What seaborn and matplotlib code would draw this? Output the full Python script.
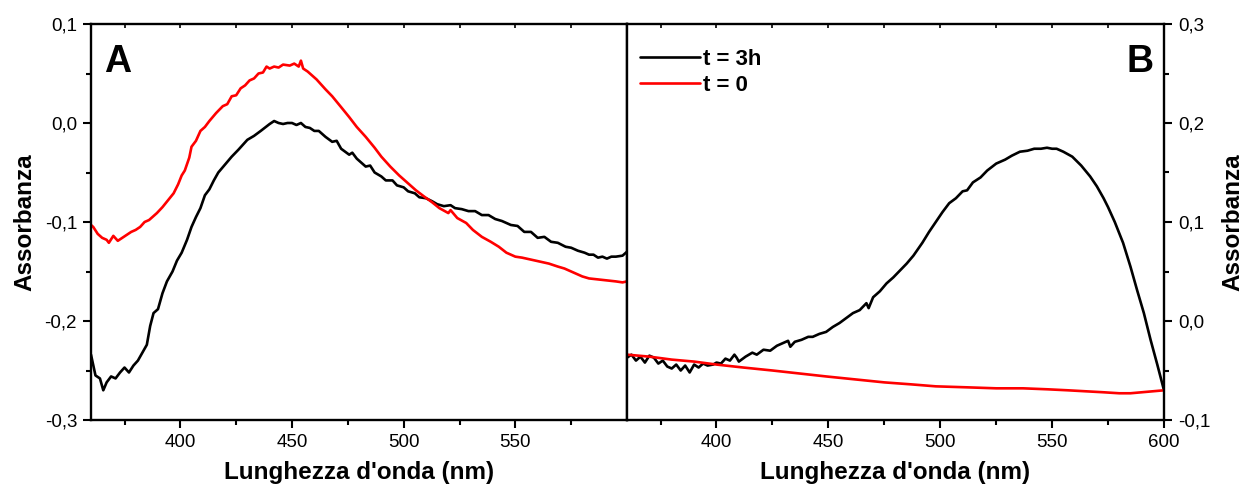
import numpy as np
import pandas as pd
import matplotlib
matplotlib.use("Agg")
import matplotlib.pyplot as plt
from matplotlib.ticker import FuncFormatter, MultipleLocator, FixedLocator
import seaborn as sns

# ---- Panel A spectra (wavelength nm, absorbance) ----
a_t3h_nm = [360, 362, 364, 365.5, 367, 369, 371, 373, 375, 377, 379, 381, 383, 385, 386.5,
            388, 390, 392, 394, 396.5, 398.5, 400.6, 403, 405, 407, 409, 411, 413, 415, 417,
            420, 423, 426, 430, 433, 436, 440, 442, 444, 446, 448, 450, 452, 454, 456, 458,
            460, 462, 465, 468, 470, 472, 475.6, 477, 479, 483, 485, 487, 490, 492, 495, 497,
            500, 502, 505, 507, 510, 512.7, 515, 518, 521, 523, 526, 529, 532, 535, 538, 541,
            544, 548, 551, 554, 557, 560, 563, 566, 569, 572.5, 575, 578, 581, 583, 585, 587,
            589, 591, 593, 595, 598, 600]
a_t3h_abs = [-0.234, -0.255, -0.258, -0.270, -0.262, -0.256, -0.258, -0.252, -0.247, -0.252,
             -0.245, -0.240, -0.232, -0.224, -0.205, -0.192, -0.188, -0.172, -0.160, -0.150,
             -0.139, -0.131, -0.118, -0.105, -0.095, -0.086, -0.073, -0.067, -0.058, -0.050,
             -0.042, -0.034, -0.027, -0.017, -0.013, -0.008, -0.001, 0.002, 0.000, -0.001,
             0.000, 0.000, -0.002, 0.000, -0.004, -0.005, -0.008, -0.008, -0.014, -0.019,
             -0.018, -0.026, -0.032, -0.030, -0.036, -0.044, -0.043, -0.050, -0.054, -0.058,
             -0.058, -0.063, -0.065, -0.069, -0.071, -0.075, -0.076, -0.079, -0.082, -0.084,
             -0.083, -0.086, -0.087, -0.089, -0.089, -0.093, -0.093, -0.097, -0.099, -0.103,
             -0.104, -0.110, -0.110, -0.116, -0.115, -0.120, -0.121, -0.125, -0.126, -0.129,
             -0.131, -0.133, -0.133, -0.136, -0.135, -0.137, -0.135, -0.135, -0.134, -0.130]

a_t0_nm = [360, 361, 363, 365, 367, 368, 370, 372, 374, 376, 378, 380, 382, 384, 386, 388,
           389.5, 392, 394.5, 397, 399, 400.6, 402, 404, 405, 407, 409, 411, 413, 416, 419,
           421, 423, 425, 427, 429, 431, 433, 435, 437, 438.6, 440, 442, 444, 446, 449, 451,
           453, 454, 455, 457, 461, 465, 468, 472, 475.6, 479, 483, 487, 490, 494, 498, 502,
           505.5, 509, 512.7, 516, 520, 521, 524, 528, 531, 535, 539, 542.6, 546, 550, 553,
           557, 561, 565, 569, 572, 576, 580, 583, 587, 591, 595, 598, 600]
a_t0_abs = [-0.103, -0.105, -0.112, -0.116, -0.118, -0.121, -0.114, -0.119, -0.116, -0.113,
            -0.110, -0.108, -0.105, -0.100, -0.098, -0.094, -0.091, -0.085, -0.078, -0.071,
            -0.062, -0.053, -0.048, -0.035, -0.024, -0.018, -0.008, -0.004, 0.002, 0.010,
            0.017, 0.019, 0.027, 0.028, 0.035, 0.038, 0.043, 0.045, 0.050, 0.051, 0.057,
            0.055, 0.057, 0.056, 0.059, 0.058, 0.060, 0.057, 0.063, 0.055, 0.052, 0.044,
            0.034, 0.027, 0.016, 0.006, -0.004, -0.014, -0.025, -0.034, -0.044, -0.053,
            -0.061, -0.068, -0.074, -0.080, -0.086, -0.091, -0.088, -0.096, -0.101, -0.108,
            -0.115, -0.120, -0.125, -0.131, -0.135, -0.136, -0.138, -0.140, -0.142, -0.145,
            -0.147, -0.151, -0.155, -0.157, -0.158, -0.159, -0.160, -0.161, -0.160]

# ---- Panel B spectra ----
b_t3h_nm = [360, 362, 364, 366, 368, 370, 372, 374, 376, 378, 380, 382, 384, 386, 388, 390,
            392, 394, 396, 398.5, 400, 402, 404, 406, 408, 409, 410, 413, 416, 418, 421, 424,
            427, 430, 432, 433, 435, 438, 441, 443, 446, 449, 452, 455, 458, 461, 464, 467,
            468, 470, 473, 476, 479, 482, 485, 488, 492, 495, 498, 501, 504, 507, 510, 512,
            514.6, 518, 521, 525, 529, 532, 535.6, 539, 542, 545, 547.7, 550, 552, 555, 559,
            563, 567, 570, 573, 575, 578, 581.7, 585, 588, 591, 594, 597, 600]
b_t3h_abs = [-0.037, -0.034, -0.040, -0.036, -0.042, -0.035, -0.037, -0.043, -0.040, -0.046,
             -0.048, -0.044, -0.050, -0.045, -0.052, -0.044, -0.047, -0.043, -0.045, -0.044,
             -0.042, -0.043, -0.038, -0.040, -0.034, -0.037, -0.041, -0.036, -0.032, -0.034,
             -0.029, -0.030, -0.025, -0.022, -0.020, -0.026, -0.021, -0.019, -0.016, -0.016,
             -0.013, -0.011, -0.006, -0.002, 0.003, 0.008, 0.011, 0.018, 0.013, 0.024, 0.030,
             0.038, 0.044, 0.051, 0.058, 0.066, 0.079, 0.090, 0.100, 0.110, 0.119, 0.124,
             0.131, 0.132, 0.140, 0.145, 0.152, 0.159, 0.163, 0.167, 0.171, 0.172, 0.174,
             0.174, 0.175, 0.174, 0.174, 0.171, 0.166, 0.157, 0.146, 0.136, 0.124, 0.115,
             0.100, 0.079, 0.055, 0.031, 0.008, -0.019, -0.044, -0.070]

b_t0_nm = [360, 370, 380, 390, 400, 412, 425, 437, 449, 462, 475, 487, 498, 512, 525, 537,
           548, 557, 565, 573, 580, 585, 590, 595, 600]
b_t0_abs = [-0.034, -0.036, -0.039, -0.041, -0.044, -0.047, -0.050, -0.053, -0.056, -0.059,
            -0.062, -0.064, -0.066, -0.067, -0.068, -0.068, -0.069, -0.070, -0.071, -0.072,
            -0.073, -0.073, -0.072, -0.071, -0.070]

series_labels = ["t = 3h", "t = 0"]
series_colors = {"t = 3h": "#000000", "t = 0": "#ff0000"}

x_label = "Lunghezza d'onda (nm)"
y_label = "Assorbanza"


def frame(nm_3h, abs_3h, nm_0, abs_0):
    return pd.concat([
        pd.DataFrame({"nm": nm_3h, "abs": abs_3h, "serie": series_labels[0]}),
        pd.DataFrame({"nm": nm_0, "abs": abs_0, "serie": series_labels[1]}),
    ], ignore_index=True)


df_a = frame(a_t3h_nm, a_t3h_abs, a_t0_nm, a_t0_abs)
df_b = frame(b_t3h_nm, b_t3h_abs, b_t0_nm, b_t0_abs)

sns.set_style("ticks")
plt.rcParams["font.family"] = ["Liberation Sans", "DejaVu Sans"]
plt.rcParams.update({
    "axes.linewidth": 1.7,
    "text.color": "black",
    "axes.labelcolor": "black",
    "axes.edgecolor": "black",
    "xtick.color": "black",
    "ytick.color": "black",
})

fig = plt.figure(figsize=(12.44, 4.88), dpi=100)
ax_a = fig.add_axes([91 / 1244, 68 / 488, 536 / 1244, 396 / 488])
ax_b = fig.add_axes([627 / 1244, 68 / 488, 537 / 1244, 396 / 488])

comma = FuncFormatter(lambda v, p: f"{v:.1f}".replace(".", ",").replace("-0,0", "0,0"))
nm_fmt = FuncFormatter(lambda v, p: f"{v:.0f}")

LABEL_SIZE = 17.5
TICK_SIZE = 13.5

for ax, df in ((ax_a, df_a), (ax_b, df_b)):
    sns.lineplot(data=df, x="nm", y="abs", hue="serie", hue_order=series_labels,
                 palette=series_colors, linewidth=1.9, sort=False, estimator=None,
                 ax=ax, legend=False)
    ax.set_xlim(360, 600)
    ax.xaxis.set_minor_locator(FixedLocator([375, 425, 475, 525, 575]))
    ax.xaxis.set_major_formatter(nm_fmt)
    ax.yaxis.set_major_formatter(comma)
    ax.yaxis.set_minor_locator(MultipleLocator(0.05))
    ax.tick_params(axis="both", which="major", length=6, width=1.5, labelsize=TICK_SIZE,
                   direction="out", pad=4)
    ax.tick_params(axis="both", which="minor", length=3.5, width=1.5, direction="out")
    ax.set_xlabel(x_label, fontsize=LABEL_SIZE, fontweight="bold", labelpad=7)
    ax.set_ylabel(y_label, fontsize=LABEL_SIZE, fontweight="bold")
    for s in ax.spines.values():
        s.set_visible(True)
        s.set_linewidth(1.7)
    # short inward ticks along the top edge
    top = ax.secondary_xaxis("top")
    top.set_xticks([375, 400, 425, 450, 475, 500, 525, 550, 575])
    top.tick_params(direction="in", length=3, width=1.2, labeltop=False)
    top.spines["top"].set_visible(False)

# Panel A: left axis
ax_a.set_ylim(-0.3, 0.1)
ax_a.set_yticks([-0.3, -0.2, -0.1, 0.0, 0.1])
ax_a.set_xticks([400, 450, 500, 550])
ax_a.yaxis.set_ticks_position("left")
ax_a.yaxis.set_label_coords(-0.102, 0.5)
right_a = ax_a.secondary_yaxis("right")
right_a.set_yticks(np.arange(-0.25, 0.1, 0.05))
right_a.tick_params(direction="out", length=3, width=1.2, labelright=False)
right_a.spines["right"].set_visible(False)

# Panel B: right axis
ax_b.set_ylim(-0.1, 0.3)
ax_b.set_yticks([-0.1, 0.0, 0.1, 0.2, 0.3])
ax_b.set_xticks([400, 450, 500, 550, 600])
ax_b.yaxis.set_ticks_position("right")
ax_b.yaxis.set_label_position("right")
ax_b.set_ylabel(y_label, fontsize=LABEL_SIZE, fontweight="bold", rotation=90)
ax_b.yaxis.set_label_coords(1.106, 0.5)

ax_a.text(0.024, 0.95, "A", transform=ax_a.transAxes, fontsize=27, fontweight="bold",
          ha="left", va="top")
ax_b.text(0.98, 0.95, "B", transform=ax_b.transAxes, fontsize=27, fontweight="bold",
          ha="right", va="top")

handles = [plt.Line2D([], [], color=series_colors[s], linewidth=1.9) for s in series_labels]
ax_b.legend(handles, series_labels, loc="upper left", bbox_to_anchor=(0.024, 0.938),
            frameon=False, handlelength=2.7, handletextpad=0.12, labelspacing=0.25,
            prop={"weight": "bold", "size": 16}, borderaxespad=0, borderpad=0)

fig.savefig("out.png", dpi=100)
